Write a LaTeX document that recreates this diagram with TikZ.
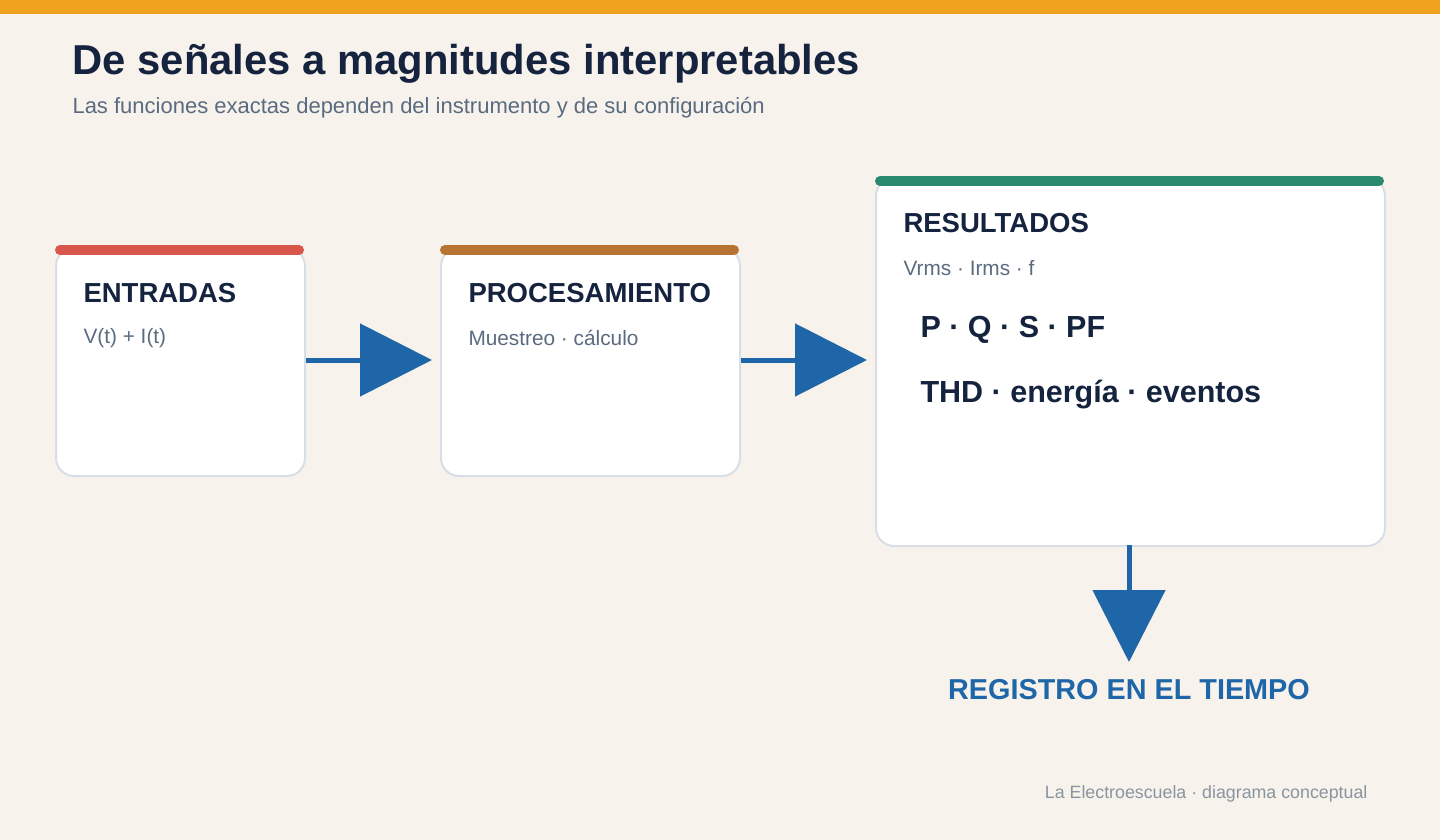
\documentclass[tikz,border=0pt]{standalone}
\usepackage{fontspec}
\setmainfont{Liberation Sans}
\usetikzlibrary{arrows.meta}
\definecolor{bg}{HTML}{F7F3EC}
\definecolor{topbar}{HTML}{F0A21E}
\definecolor{navy}{HTML}{15233F}
\definecolor{sub}{HTML}{5A6B80}
\definecolor{bord}{HTML}{D8DEE8}
\definecolor{cred}{HTML}{D9574A}
\definecolor{cbrown}{HTML}{B87333}
\definecolor{cgreen}{HTML}{2A8A70}
\definecolor{cblue}{HTML}{1F66A8}
\definecolor{foot}{HTML}{8A94A0}
\begin{document}
\begin{tikzpicture}[x=1pt,y=-1pt,
 box/.style={draw=bord,line width=2pt,fill=white,rounded corners=18pt,anchor=north west,inner sep=0pt},
 bar/.style={line width=10pt,line cap=round},
 head/.style={font=\bfseries\fontsize{27.5}{32}\selectfont,text=navy,anchor=west},
 small/.style={font=\fontsize{20.8}{25}\selectfont,text=sub,anchor=west},
 big/.style={font=\bfseries\fontsize{30.5}{36}\selectfont,text=navy,anchor=west},
 arr/.style={draw=cblue,line width=5pt,-{Triangle[length=72pt,width=72pt]},shorten >=8pt}]
\fill[bg] (0,0) rectangle (1440,840);
\fill[topbar] (0,0) rectangle (1440,14);
\node[anchor=west,font=\bfseries\fontsize{41.8}{48}\selectfont,text=navy] (t) at (69,64) {De señales a magnitudes interpretables};
\node[anchor=west,font=\fontsize{22}{26}\selectfont,text=sub] (s) at (69,108) {Las funciones exactas dependen del instrumento y de su configuración};
\node[box,minimum width=249pt,minimum height=228pt] (b1) at (55,247) {};
\node[box,minimum width=299pt,minimum height=228pt] (b2) at (440,247) {};
\node[box,minimum width=509pt,minimum height=368pt] (b3) at (875,177) {};
\draw[bar,cred] (60,250) -- (299,250);
\draw[bar,cbrown] (445,250) -- (734,250);
\draw[bar,cgreen] (880,181) -- (1379,181);
\node[head] (h1) at (80,293) {ENTRADAS};
\node[small] (s1) at (80,338) {V(t) + I(t)};
\node[head] (h2) at (465,293) {PROCESAMIENTO};
\node[small] (s2) at (465,338) {Muestreo · cálculo};
\node[head] (h3) at (900,223) {RESULTADOS};
\node[small] (s3) at (900,268) {Vrms · Irms · f};
\node[big] (p1) at (917,330) {P · Q · S · PF};
\node[big] (p2) at (917,395) {THD · energía · eventos};
\coordinate (a1) at (b1.east|-0,360);
\coordinate (a2) at (b2.west|-0,360);
\coordinate (a3) at (b2.east|-0,360);
\coordinate (a4) at (b3.west|-0,360);
\draw[arr] (a1) -- (a2);
\draw[arr] (a3) -- (a4);
\coordinate (d1) at (1129,545);
\node[font=\bfseries\fontsize{28.8}{34}\selectfont,text=cblue] (reg) at (1129,690) {REGISTRO EN EL TIEMPO};
\coordinate (d2) at (1129,662);
\draw[arr,shorten >=0pt] (d1) -- (d2);
\node[anchor=east,font=\fontsize{17.8}{21}\selectfont,text=foot] (f) at (1371,794) {La Electroescuela · diagrama conceptual};
\end{tikzpicture}
\end{document}
